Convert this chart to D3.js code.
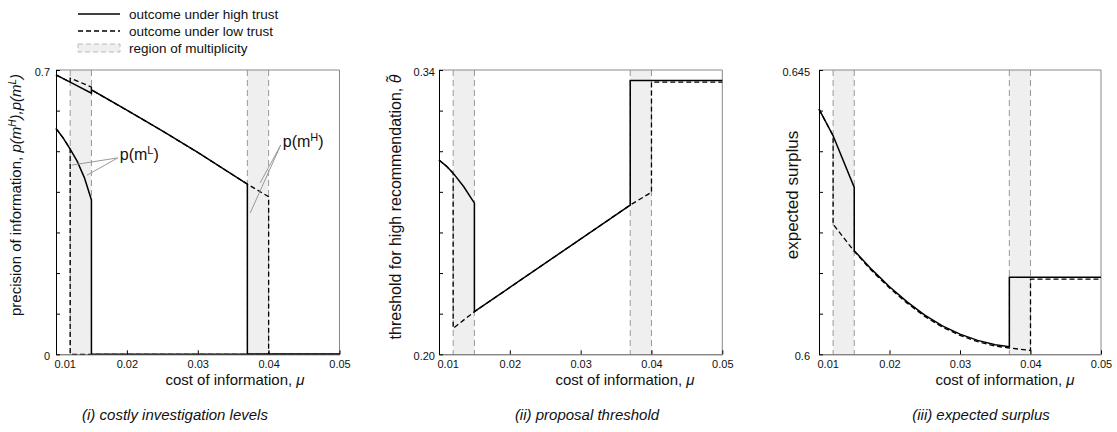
<!DOCTYPE html>
<html lang="en">
<head>
<meta charset="UTF-8">
<title>Costly investigation, threshold and surplus</title>
<script src="https://d3js.org/d3.v7.min.js"></script>
<style>
    body { margin: 0; background: #fff; }
    svg text { font-family: "Liberation Sans", Arial, sans-serif; fill: #111; }
</style>
</head>
<body>
<svg id="chart" width="1117" height="432"></svg>
<script>
// shared x axis (cost of information) and regions of multiplicity
const xTicks = [0.01, 0.02, 0.03, 0.04, 0.05];
const regions = [[0.012, 0.015], [0.037, 0.040]];

// (i) precision of information p(mH), p(mL)
const p1Ticks = [0, 0.1, 0.2, 0.3, 0.4, 0.5, 0.6, 0.7];
const p1TickLabels = ["0", "", "", "", "", "", "", "0.7"];
const p1HighMH = [[0.01, 0.688], [0.012, 0.670], [0.015, 0.643], [0.015, 0.651], [0.02, 0.601], [0.025, 0.550], [0.03, 0.497], [0.037, 0.419], [0.037, 0], [0.05, 0]];
const p1LowMH = [[0.01, 0.688], [0.012, 0.670], [0.012, 0.680], [0.015, 0.658], [0.015, 0.651], [0.02, 0.601], [0.025, 0.550], [0.03, 0.497], [0.037, 0.419], [0.04, 0.388], [0.04, 0], [0.05, 0]];
const p1HighML = [[0.01, 0.556], [0.011, 0.533], [0.012, 0.505], [0.013, 0.475], [0.014, 0.435], [0.015, 0.380], [0.015, 0], [0.05, 0]];
const p1LowML = [[0.01, 0.556], [0.011, 0.533], [0.012, 0.505], [0.012, 0], [0.05, 0]];

// (ii) proposal threshold
const p2Ticks = [0.20, 0.22, 0.24, 0.26, 0.28, 0.30, 0.32, 0.34];
const p2TickLabels = ["0.20", "", "", "", "", "", "", "0.34"];
const p2High = [[0.01, 0.2957], [0.011, 0.2928], [0.012, 0.2892], [0.0135, 0.2825], [0.015, 0.2744], [0.015, 0.221], [0.037, 0.2735], [0.037, 0.3348], [0.05, 0.3348]];
const p2Low = [[0.01, 0.2957], [0.011, 0.2928], [0.012, 0.2892], [0.012, 0.2128], [0.015, 0.221], [0.037, 0.2735], [0.04, 0.2798], [0.04, 0.334], [0.05, 0.334]];

// (iii) expected surplus
const p3Ticks = [0.6, 0.60643, 0.61286, 0.61929, 0.62571, 0.63214, 0.63857, 0.645];
const p3TickLabels = ["0.6", "", "", "", "", "", "", "0.645"];
const p3High = [[0.01, 0.6388], [0.012, 0.6346], [0.015, 0.6264], [0.015, 0.6164], [0.0175, 0.6134], [0.02, 0.6107], [0.0225, 0.6083], [0.025, 0.6062], [0.0275, 0.6045], [0.03, 0.6032], [0.0325, 0.6022], [0.035, 0.6015], [0.037, 0.6012], [0.037, 0.6122], [0.05, 0.6122]];
const p3Low = [[0.01, 0.6388], [0.012, 0.6346], [0.012, 0.6206], [0.015, 0.6163], [0.0175, 0.6132], [0.02, 0.6105], [0.0225, 0.6081], [0.025, 0.6060], [0.0275, 0.6043], [0.03, 0.6030], [0.0325, 0.6020], [0.035, 0.6013], [0.037, 0.6010], [0.04, 0.6006], [0.04, 0.6119], [0.05, 0.6119]];

const svg = d3.select('#chart');
const plotTop = 70, plotBottom = 354.3;

const panels = [
    { left: 56, right: 339.5, domain: [0, 0.7], ticks: p1Ticks, labels: p1TickLabels, labelPad: 6,
      series: [p1HighMH, p1HighML], dashed: [p1LowMH, p1LowML],
      caption: '(i) costly investigation levels', captionX: 175, xLabelX: 235, yLabelX: 16, yLabelSize: 15 },
    { left: 439, right: 722.3, domain: [0.20, 0.34], ticks: p2Ticks, labels: p2TickLabels, labelPad: 4,
      series: [p2High], dashed: [p2Low],
      caption: '(ii) proposal threshold', captionX: 587, xLabelX: 625, yLabelX: 395, yLabelSize: 16 },
    { left: 819, right: 1101, domain: [0.6, 0.645], ticks: p3Ticks, labels: p3TickLabels, labelPad: 9,
      series: [p3High], dashed: [p3Low],
      caption: '(iii) expected surplus', captionX: 981, xLabelX: 1005, yLabelX: 792, yLabelSize: 17 }
];

panels.forEach((p, i) => {
    const x = d3.scaleLinear().domain([0.01, 0.05]).range([p.left, p.right]);
    const y = d3.scaleLinear().domain(p.domain).range([plotBottom, plotTop]);
    p.x = x; p.y = y;
    const g = svg.append('g');

    // shaded regions of multiplicity
    regions.forEach(r => {
        g.append('rect')
            .attr('x', x(r[0])).attr('y', plotTop)
            .attr('width', x(r[1]) - x(r[0])).attr('height', plotBottom - plotTop)
            .attr('fill', '#efefef');
        r.forEach(v => {
            g.append('line')
                .attr('x1', x(v)).attr('x2', x(v))
                .attr('y1', plotTop).attr('y2', plotBottom)
                .attr('stroke', '#999').attr('stroke-width', 1)
                .attr('stroke-dasharray', '6,4');
        });
    });

    // frame (top and right in grey)
    g.append('path')
        .attr('d', `M${p.left},${plotTop}H${p.right}V${plotBottom}`)
        .attr('fill', 'none').attr('stroke', '#888').attr('stroke-width', 1);

    const line = d3.line().x(d => x(d[0])).y(d => y(d[1]));
    p.dashed.forEach(s => {
        g.append('path').datum(s).attr('d', line)
            .attr('fill', 'none').attr('stroke', '#000')
            .attr('stroke-width', 1.3).attr('stroke-dasharray', '5,3');
    });
    p.series.forEach(s => {
        g.append('path').datum(s).attr('d', line)
            .attr('fill', 'none').attr('stroke', '#000')
            .attr('stroke-width', 1.5);
    });

    // axes
    const xAxis = g.append('g')
        .attr('transform', `translate(0,${plotBottom})`)
        .call(d3.axisBottom(x).tickValues(xTicks).tickFormat(d3.format('.2f'))
            .tickSizeInner(-4).tickSizeOuter(0).tickPadding(6));
    xAxis.select('.domain').attr('stroke', '#555');
    xAxis.selectAll('text').style('font-size', '11px')
        .filter((d, k) => k === 0).attr('text-anchor', 'start').attr('x', -2);

    const yAxis = g.append('g')
        .attr('transform', `translate(${p.left},0)`)
        .call(d3.axisLeft(y).tickValues(p.ticks).tickFormat((d, k) => p.labels[k])
            .tickSizeInner(-4).tickSizeOuter(0).tickPadding(p.labelPad));
    yAxis.select('.domain').attr('stroke', '#000');
    yAxis.selectAll('text').style('font-size', '11px').attr('dy', '0.5em');

    // axis titles and caption
    const xl = svg.append('text')
        .attr('x', p.xLabelX).attr('y', 385)
        .attr('text-anchor', 'middle').style('font-size', '15px')
        .text('cost of information, ');
    xl.append('tspan').style('font-style', 'italic').text('μ');

    svg.append('text')
        .attr('x', p.captionX).attr('y', 420)
        .attr('text-anchor', 'middle').style('font-size', '15px')
        .style('font-style', 'italic')
        .text(p.caption);

    const yl = svg.append('text')
        .attr('transform', `translate(${p.yLabelX},${i === 1 ? 207 : 195}) rotate(-90)`)
        .attr('dy', '0.35em')
        .attr('text-anchor', 'middle')
        .style('font-size', p.yLabelSize + 'px');
    if (i === 0) {
        yl.append('tspan').text('precision of information, ');
        yl.append('tspan').style('font-style', 'italic').text('p(m');
        yl.append('tspan').style('font-style', 'italic').attr('baseline-shift', 'super').style('font-size', '10px').text('H');
        yl.append('tspan').style('font-style', 'italic').text('),p(m');
        yl.append('tspan').style('font-style', 'italic').attr('baseline-shift', 'super').style('font-size', '10px').text('L');
        yl.append('tspan').style('font-style', 'italic').text(')');
    } else if (i === 1) {
        yl.append('tspan').text('threshold for high recommendation, ');
        yl.append('tspan').style('font-style', 'italic').text('θ\u0303');
    } else {
        yl.text('expected surplus');
    }
});

// annotations in panel (i)
const annotations = [
    { sup: 'L', at: [0.0190, 0.491], to: [[0.01226, 0.466], [0.01437, 0.441]] },
    { sup: 'H', at: [0.0420, 0.523], to: [[0.0388, 0.422], [0.0374, 0.348]] }
];
const p1 = panels[0];
annotations.forEach(a => {
    a.to.forEach(t => {
        svg.append('line')
            .attr('x1', p1.x(a.at[0]) - 2).attr('y1', p1.y(a.at[1]) + 3)
            .attr('x2', p1.x(t[0])).attr('y2', p1.y(t[1]))
            .attr('stroke', '#999').attr('stroke-width', 1);
    });
    const t = svg.append('text')
        .attr('x', p1.x(a.at[0])).attr('y', p1.y(a.at[1]))
        .attr('dy', '0.35em').style('font-size', '16px')
        .text('p(m');
    t.append('tspan').attr('baseline-shift', 'super').style('font-size', '11px').text(a.sup);
    t.append('tspan').text(')');
});

// legend
const legend = svg.append('g').attr('transform', 'translate(78,0)');
const legendItems = ['outcome under high trust', 'outcome under low trust', 'region of multiplicity'];
legendItems.forEach((label, k) => {
    const yy = 14 + k * 17;
    if (k === 2) {
        legend.append('rect').attr('x', 0).attr('y', yy - 4).attr('width', 42).attr('height', 8)
            .attr('fill', '#efefef').attr('stroke', '#bbb').attr('stroke-dasharray', '5,3');
    } else {
        legend.append('line').attr('x1', 0).attr('x2', 42).attr('y1', yy).attr('y2', yy)
            .attr('stroke', '#000').attr('stroke-width', k === 0 ? 1.5 : 1.3)
            .attr('stroke-dasharray', k === 0 ? null : '5,3');
    }
    legend.append('text').attr('x', 51).attr('y', yy).attr('dy', '0.35em')
        .style('font-size', '13.5px').text(label);
});
</script>
</body>
</html>
